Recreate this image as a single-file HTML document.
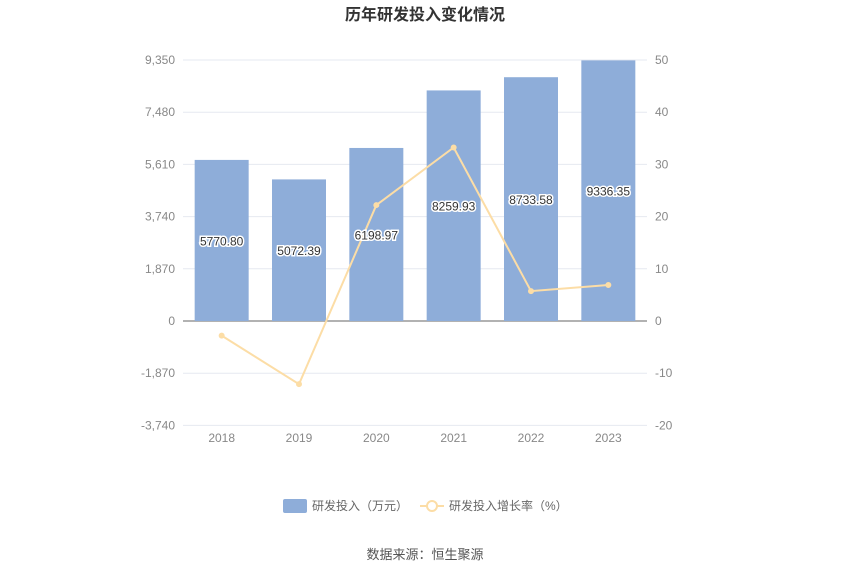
<!DOCTYPE html>
<html><head><meta charset="utf-8"><style>
body{margin:0;background:#fff;font-family:"Liberation Sans","Noto Sans CJK SC",sans-serif;}
svg text{font-family:"Liberation Sans","Noto Sans CJK SC",sans-serif;}
</style></head><body>
<svg id="chart" width="850" height="575">
<text x="425" y="20" text-anchor="middle" font-size="16" font-weight="bold" fill="#333">历年研发投入变化情况</text>
<g id="grid"></g><g id="bars"></g><g id="line"></g><g id="labels"></g>
<g>
<g><rect x="283" y="499" width="24" height="14" rx="2" fill="#8eadd9"/><text x="312" y="510" font-size="12" fill="#666">研发投入（万元）</text></g>
<g><line x1="420" y1="506" x2="444" y2="506" stroke="#fcdda6" stroke-width="2"/><circle cx="432" cy="506" r="5" fill="#fff" stroke="#fcdda6" stroke-width="2"/><text x="449" y="510" font-size="12" fill="#666">研发投入增长率（%）</text></g>
</g>
<text x="425" y="559" text-anchor="middle" font-size="13" fill="#555">数据来源：恒生聚源</text>
</svg>
<script>
const categories=["2018","2019","2020","2021","2022","2023"];
const investment=[5770.80,5072.39,6198.97,8259.93,8733.58,9336.35];
const growth=[-2.8,-12.1,22.21,33.24,5.73,6.90];
const leftTicks=[9350,7480,5610,3740,1870,0,-1870,-3740];
const rightTicks=[50,40,30,20,10,0,-10,-20];
const NS="http://www.w3.org/2000/svg";
const x0=183,x1=647,yTop=60,yZero=321,yBot=425;
const yL=v=>yZero-(v/9350)*(yZero-yTop);
const yR=v=>yZero-(v/50)*(yZero-yTop);
const step=(x1-x0)/categories.length;
const xC=i=>x0+step*(i+0.5);
function mk(tag,attrs,parent){const e=document.createElementNS(NS,tag);for(const k in attrs)e.setAttribute(k,attrs[k]);document.getElementById(parent).appendChild(e);return e;}
leftTicks.forEach(t=>{const y=yL(t);
const g=mk("line",{x1:x0,x2:x1,y1:y,y2:y,stroke:t===0?"#666":"#e6e9f0","stroke-width":1},"grid");


const l=mk("text",{x:x0-8,y:y+4,"text-anchor":"end","font-size":12,fill:"#888"},"grid");l.textContent=t.toLocaleString("en-US");

});
rightTicks.forEach(t=>{const r=mk("text",{x:x1+8,y:yR(t)+4,"font-size":12,fill:"#888"},"grid");r.textContent=t;

});
categories.forEach((c,i)=>{const t=mk("text",{x:xC(i),y:yBot+17,"text-anchor":"middle","font-size":12,fill:"#888"},"grid");t.textContent=c;

});
investment.forEach((v,i)=>{const y=yL(v);
const b=mk("rect",{x:xC(i)-27,y:y,width:54,height:yZero-y,fill:"#8eadd9"},"bars");


const t=mk("text",{x:xC(i),y:(y+yZero)/2+5,"text-anchor":"middle","font-size":12,fill:"#333",stroke:"#fff","stroke-width":3,"paint-order":"stroke"},"labels");t.textContent=v.toFixed(2);

});
const pts=growth.map((v,i)=>xC(i)+","+yR(v)).join(" ");
const pl=mk("polyline",{points:pts,fill:"none",stroke:"#fcdda6","stroke-width":2},"line");


growth.forEach((v,i)=>{const c=mk("circle",{cx:xC(i),cy:yR(v),r:2.5,fill:"#fcdda6",stroke:"#fcdda6"},"line");

});
</script>
</body></html>
